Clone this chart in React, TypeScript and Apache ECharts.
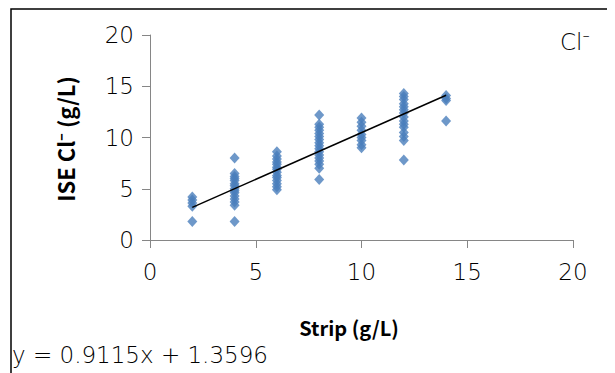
import React, { useEffect, useRef } from "react";
import * as echarts from "echarts";

const stripLevels = [2, 4, 6, 8, 10, 12, 14];
const iseAt2 = [4.2, 3.9, 3.6, 3.3, 1.8];
const iseAt4 = [8.0, 6.5, 6.2, 6.0, 5.8, 5.5, 5.3, 5.0, 4.8, 4.6, 4.3, 4.0, 3.7, 3.4, 1.8];
const iseAt6 = [8.6, 8.2, 7.9, 7.6, 7.4, 7.1, 6.9, 6.6, 6.3, 6.1, 5.8, 5.5, 5.2, 4.9];
const iseAt8 = [12.2, 11.3, 11.0, 10.7, 10.4, 10.1, 9.8, 9.5, 9.2, 8.9, 8.6, 8.3, 8.0, 7.7, 7.4, 7.0, 5.9];
const iseAt10 = [11.9, 11.5, 11.1, 10.7, 10.3, 10.0, 9.7, 9.3, 9.0];
const iseAt12 = [14.3, 14.0, 13.7, 13.3, 13.0, 12.7, 12.4, 12.0, 11.6, 11.3, 11.0, 10.5, 10.1, 9.7, 7.8];
const iseAt14 = [14.1, 13.8, 13.6, 11.6];
const iseGroups = [iseAt2, iseAt4, iseAt6, iseAt8, iseAt10, iseAt12, iseAt14];

const slope = 0.9115;
const intercept = 1.3596;
const trendX = [2, 14];

const xTicks = [0, 5, 10, 15, 20];
const yTicks = [0, 5, 10, 15, 20];

const FONT = "'DejaVu Sans', 'Noto Sans', sans-serif";
const BOLD = "'Noto Sans CJK KR', 'Noto Sans', sans-serif";

export default function App() {
  const ref = useRef<HTMLDivElement>(null);
  useEffect(() => {
    if (!ref.current) return;
    const chart = echarts.init(ref.current, undefined, { renderer: "svg" });
    const points: number[][] = [];
    stripLevels.forEach((x, i) => iseGroups[i].forEach((y) => points.push([x, y])));
    const trend = trendX.map((x) => [x, slope * x + intercept]);
    chart.setOption({
      animation: false,
      grid: { left: 142, top: 27, right: 42, bottom: 133 },
      xAxis: {
        type: "value",
        min: xTicks[0],
        max: xTicks[xTicks.length - 1],
        interval: 5,
        splitLine: { show: false },
        axisLine: { show: true, lineStyle: { color: "#868686", width: 1 } },
        axisTick: { show: true, length: 8, lineStyle: { color: "#868686" } },
        axisLabel: { fontSize: 23, fontWeight: 200, color: "#000", fontFamily: FONT, margin: 20 },
      },
      yAxis: {
        type: "value",
        min: yTicks[0],
        max: yTicks[yTicks.length - 1],
        interval: 5,
        splitLine: { show: false },
        axisLine: { show: true, lineStyle: { color: "#868686", width: 1 } },
        axisTick: { show: true, length: 8, lineStyle: { color: "#868686" } },
        axisLabel: { fontSize: 23, fontWeight: 200, color: "#000", fontFamily: FONT, margin: 16 },
      },
      series: [
        {
          type: "scatter",
          data: points,
          symbol: "diamond",
          symbolSize: [10, 11],
          itemStyle: { color: "#4a7ebb" },
        },
        {
          type: "line",
          data: trend,
          symbol: "none",
          lineStyle: { color: "#000", width: 1.5 },
          z: 3,
        },
      ],
      graphic: [
        {
          type: "rect",
          shape: { x: 3, y: 1, width: 600, height: 400 },
          style: { fill: "none", stroke: "#000", lineWidth: 1.5 },
          silent: true,
        },
        {
          type: "text",
          left: 552,
          top: 22,
          style: { text: "Cl⁻", fontSize: 23, fontWeight: 200, fill: "#000", fontFamily: FONT },
        },
        {
          type: "text",
          x: 57,
          y: 131,
          rotation: Math.PI / 2,
          style: {
            text: "ISE Cl⁻ (g/L)",
            fontSize: 22,
            fontWeight: "bold",
            fill: "#000",
            fontFamily: BOLD,
            align: "center",
            verticalAlign: "middle",
          },
        },
        {
          type: "text",
          x: 341,
          y: 319,
          style: {
            text: "Strip (g/L)",
            fontSize: 20,
            fontWeight: "bold",
            fill: "#000",
            fontFamily: BOLD,
            align: "center",
            verticalAlign: "middle",
          },
        },
        {
          type: "text",
          x: 4,
          y: 347,
          style: {
            text: "y = 0.9115x + 1.3596",
            fontSize: 23,
            fontWeight: 200,
            fill: "#000",
            fontFamily: FONT,
            align: "left",
            verticalAlign: "middle",
          },
        },
      ],
    });
    return () => chart.dispose();
  }, []);
  return <div ref={ref} style={{ width: 607, height: 365 }} />;
}
